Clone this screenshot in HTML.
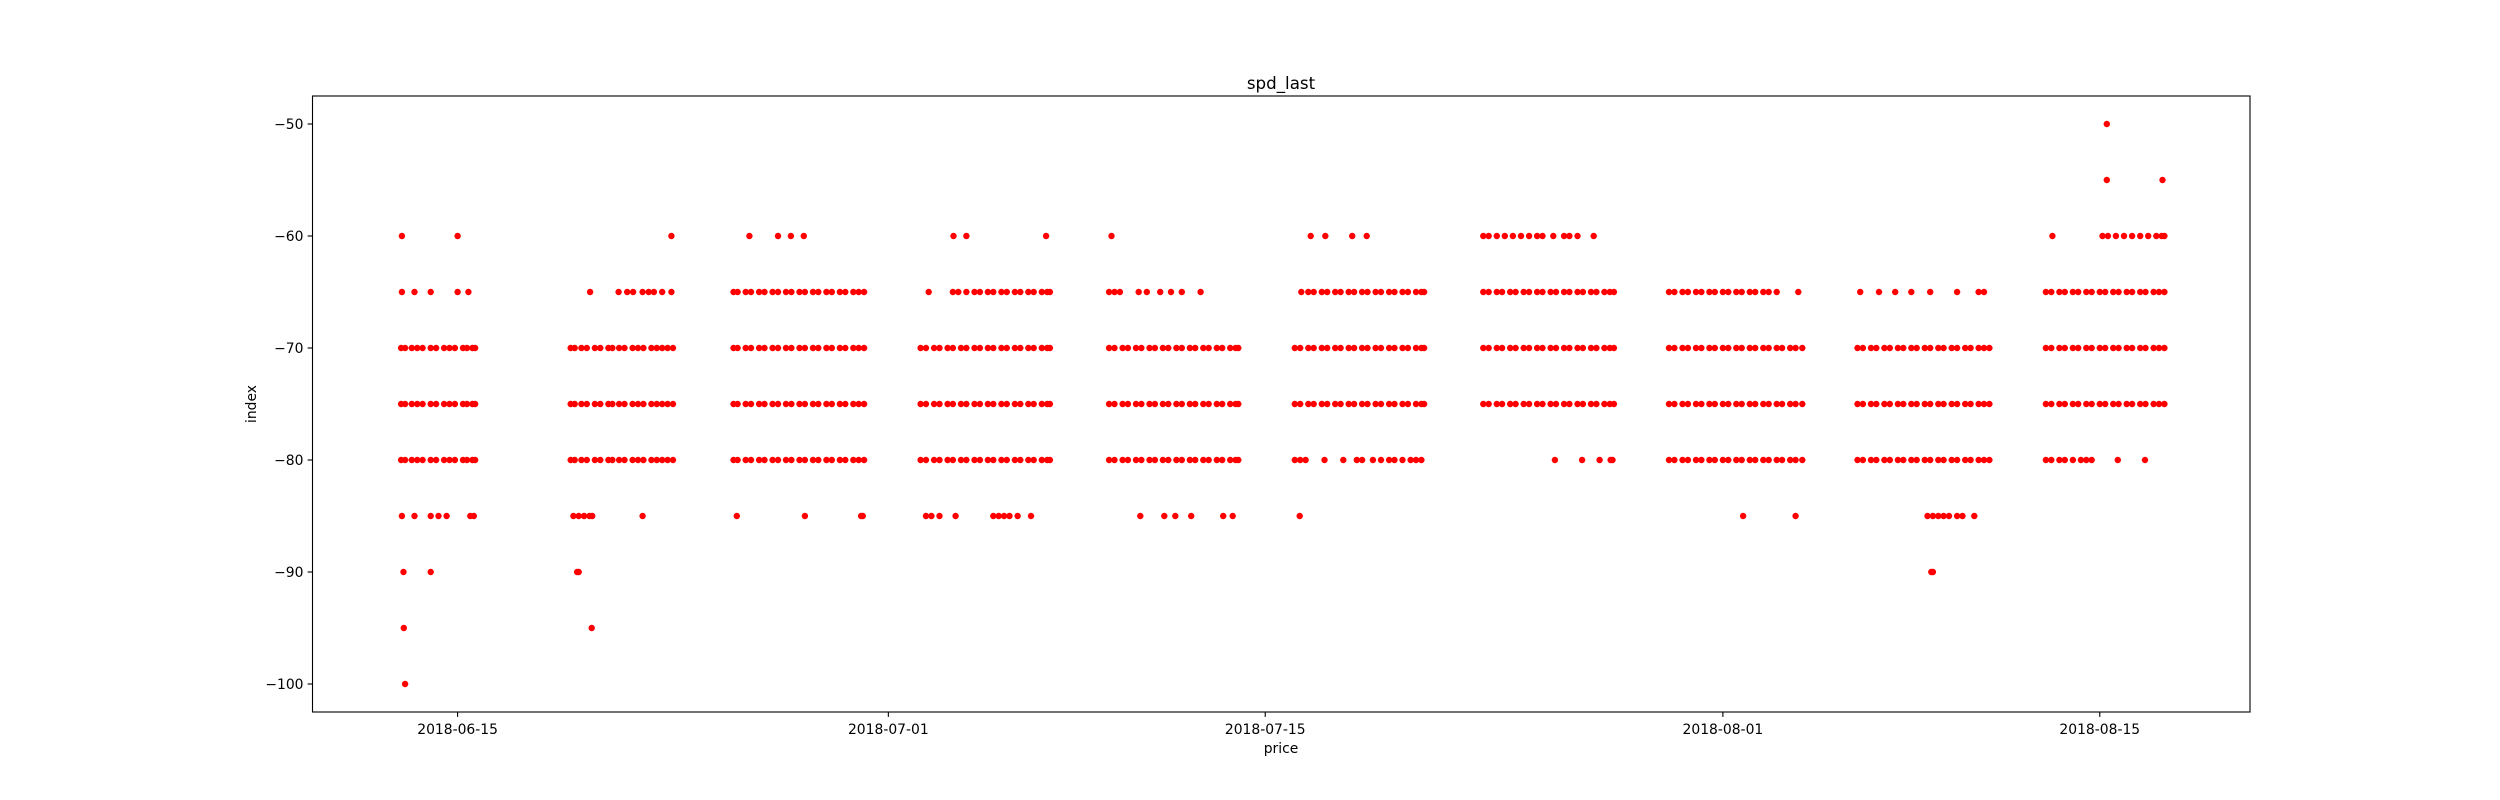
<!DOCTYPE html>
<html><head><meta charset="utf-8"><style>
html,body{margin:0;padding:0;background:#fff;}
svg{display:block;font-family:"DejaVu Sans","Liberation Sans",sans-serif;}
</style></head><body>
<svg id="chart" width="2500" height="800" viewBox="0 0 2500 800" xmlns="http://www.w3.org/2000/svg">
<rect x="0" y="0" width="2500" height="800" fill="#fff"/>
<g id="marks"></g>
<g id="axes"></g>
<text x="1281" y="89" text-anchor="middle" font-size="16.7" fill="#000">spd_last</text>
<text x="1281" y="753" text-anchor="middle" font-size="13.9" fill="#000">price</text>
<text transform="translate(256,404) rotate(-90)" text-anchor="middle" font-size="13.9" fill="#000">index</text>
</svg>
<script>
// x values are days relative to 2018-06-15
const xTickDays = [0, 16, 30, 47, 61];
const xTickLabels = ["2018-06-15", "2018-07-01", "2018-07-15", "2018-08-01", "2018-08-15"];
const yTicks = [-50, -60, -70, -80, -90, -100];

const c1 = [-2.1,-1.95,-1.7,-1.5,-1.3,-1.0,-0.8,-0.5,-0.3,-0.1,0.2,0.35,0.55,0.65];
const c2 = [4.2,4.35,4.6,4.8,5.1,5.3,5.6,5.75,6.0,6.2,6.5,6.7,6.9,7.2,7.4,7.6,7.8,8.0];
const c3 = [10.25,10.4,10.7,10.9,11.2,11.4,11.7,11.9,12.2,12.4,12.7,12.9,13.2,13.4,13.7,13.9,14.2,14.4,14.7,14.9,15.1];
const c4 = [17.2,17.4,17.7,17.9,18.2,18.4,18.7,18.9,19.2,19.4,19.7,19.9,20.2,20.4,20.7,20.9,21.2,21.4,21.7,21.9,22.0];
const c5 = [24.2,24.4,24.7,24.9,25.2,25.4,25.7,25.9,26.2,26.4,26.7,26.9,27.2,27.4,27.7,27.9,28.2,28.4,28.7,28.9,29.0];
const c6 = [31.1,31.3,31.6,31.8,32.1,32.3,32.6,32.8,33.1,33.3,33.6,33.8,34.1,34.3,34.6,34.8,35.1,35.3,35.6,35.8,35.9];
const c7 = [38.1,38.3,38.6,38.8,39.1,39.3,39.6,39.8,40.1,40.3,40.6,40.8,41.1,41.3,41.6,41.8,42.1,42.3,42.6,42.8,42.95];
const c8 = [45.0,45.2,45.5,45.7,46.0,46.2,46.5,46.7,47.0,47.2,47.5,47.7,48.0,48.2,48.5,48.7,49.0,49.2,49.5,49.7,49.95];
const c9 = [52.0,52.2,52.5,52.7,53.0,53.2,53.5,53.7,54.0,54.2,54.5,54.7,55.0,55.2,55.5,55.7,56.0,56.2,56.5,56.7,56.9];
const c10 = [59.0,59.2,59.5,59.7,60.0,60.2,60.5,60.7,61.0,61.2,61.5,61.7,62.0,62.2,62.5,62.7,63.0,63.2,63.4];

const daysAt50 = [61.26];
const daysAt55 = [61.26, 63.33];
const daysAt60 = [-2.07,0,7.94,10.84,11.9,12.38,12.86,18.42,18.9,21.86,24.29,31.69,32.23,33.23,33.77,
  38.1,38.3,38.6,38.9,39.2,39.5,39.8,40.1,40.3,40.7,41.1,41.3,41.6,42.2,
  59.24,61.1,61.3,61.6,61.9,62.2,62.5,62.8,63.1,63.3,63.4];
const daysAt65 = [-2.07,-1.6,-1.0,0.0,0.4,4.92,5.98,6.3,6.52,6.87,7.1,7.29,7.6,7.94]
  .concat(c3)
  .concat([17.5,18.4,18.6,18.9,19.2,19.4,19.7,19.9,20.2,20.4,20.7,20.9,21.2,21.4,21.7,21.9,22.0])
  .concat([24.2,24.4,24.6,25.3,25.6,26.1,26.5,26.9,27.6])
  .concat([31.34]).concat(c6.slice(2)).concat(c7)
  .concat([45.0,45.2,45.5,45.7,46.0,46.2,46.5,46.7,47.0,47.2,47.5,47.7,48.0,48.2,48.5,48.7,49.0,49.8])
  .concat([52.1,52.8,53.4,54.0,54.7,55.7,56.5,56.7]).concat(c10);
const daysAt70 = [].concat(c1,c2,c3,c4,c5,c6,c7,c8,c9,c10);
const daysAt75 = [].concat(c1,c2,c3,c4,c5,c6,c7,c8,c9,c10);
const daysAt80 = [].concat(c1,c2,c3,c4,c5)
  .concat([31.1,31.3,31.5,32.2,32.9,33.4,33.6,34.0,34.3,34.6,34.8,35.1,35.4,35.6,35.8])
  .concat([40.76,41.77,42.42,42.83,42.9]).concat(c8,c9)
  .concat([59.0,59.2,59.5,59.7,60.0,60.3,60.5,60.7,61.67,62.68]);
const daysAt85 = [-2.07,-1.6,-1.0,-0.71,-0.41,0.47,0.6,4.3,4.5,4.7,4.9,5.0,6.87,10.37,12.9,14.99,15.05,
  17.4,17.6,17.9,18.5,19.9,20.1,20.3,20.5,20.8,21.3,25.36,26.25,26.66,27.25,28.44,28.79,31.28,
  47.75,49.7,54.6,54.8,55.0,55.2,55.4,55.7,55.9,56.34];
const daysAt90 = [-2.01,-1.0,4.44,4.5,54.74,54.8];
const daysAt95 = [-2.0,4.98];
const daysAt100 = [-1.95];

const levels = [-50,-55,-60,-65,-70,-75,-80,-85,-90,-95,-100];
const levelDays = [daysAt50,daysAt55,daysAt60,daysAt65,daysAt70,daysAt75,daysAt80,daysAt85,daysAt90,daysAt95,daysAt100];

const L = 312.5, R = 2250, T = 96, B = 712;
const XMIN = -5.39, XMAX = 66.58, YMIN = -102.5, YMAX = -47.5;
function xs(d){ return L + (d - XMIN) / (XMAX - XMIN) * (R - L); }
function ys(v){ return B - (v - YMIN) / (YMAX - YMIN) * (B - T); }
const NS = "http://www.w3.org/2000/svg";
const marks = document.getElementById("marks");
const axes = document.getElementById("axes");

levels.forEach(function(v, i){
  levelDays[i].forEach(function(d){
    const c = document.createElementNS(NS, "circle");
    c.setAttribute("cx", xs(d).toFixed(1));
    c.setAttribute("cy", ys(v).toFixed(1));
    c.setAttribute("r", "3.2");
    c.setAttribute("fill", "#ff0000");
    
    
    marks.appendChild(c);
  });
});

const frame = document.createElementNS(NS, "rect");
frame.setAttribute("x", L); frame.setAttribute("y", T);
frame.setAttribute("width", R - L); frame.setAttribute("height", B - T);
frame.setAttribute("fill", "none"); frame.setAttribute("stroke", "#000"); frame.setAttribute("stroke-width", "1.1");


axes.appendChild(frame);

xTickDays.forEach(function(d, i){
  const x = xs(d);
  const t = document.createElementNS(NS, "line");
  t.setAttribute("x1", x); t.setAttribute("x2", x); t.setAttribute("y1", B); t.setAttribute("y2", B + 4.9);
  t.setAttribute("stroke", "#000"); t.setAttribute("stroke-width", "1.1");
  
  
  axes.appendChild(t);
  const tx = document.createElementNS(NS, "text");
  tx.setAttribute("x", x); tx.setAttribute("y", B + 22);
  tx.setAttribute("text-anchor", "middle"); tx.setAttribute("font-size", "13.9");
  tx.textContent = xTickLabels[i];
  
  
  axes.appendChild(tx);
});

yTicks.forEach(function(v){
  const y = ys(v);
  const t = document.createElementNS(NS, "line");
  t.setAttribute("x1", L - 4.9); t.setAttribute("x2", L); t.setAttribute("y1", y); t.setAttribute("y2", y);
  t.setAttribute("stroke", "#000"); t.setAttribute("stroke-width", "1.1");
  
  
  axes.appendChild(t);
  const tx = document.createElementNS(NS, "text");
  tx.setAttribute("x", L - 9); tx.setAttribute("y", y + 5);
  tx.setAttribute("text-anchor", "end"); tx.setAttribute("font-size", "13.9");
  tx.textContent = "\u2212" + Math.abs(v);
  
  
  axes.appendChild(tx);
});
</script>
</body></html>
